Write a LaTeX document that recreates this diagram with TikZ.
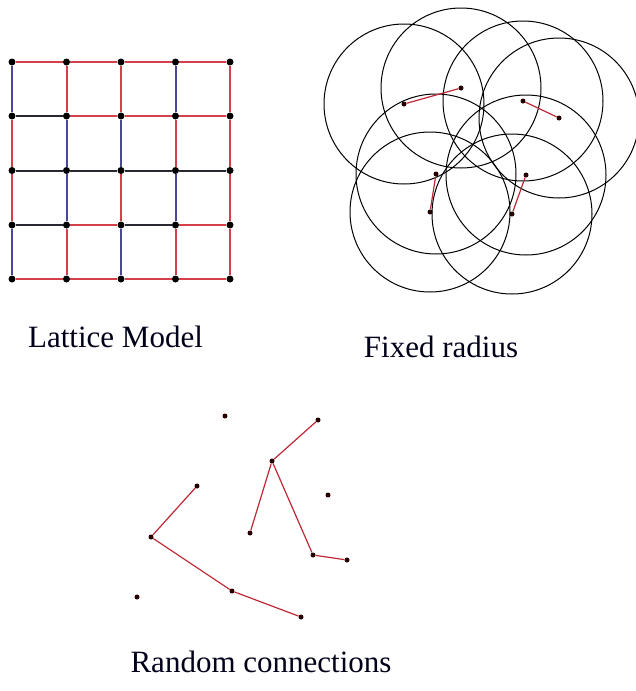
\documentclass[tikz,border=0pt]{standalone}
\usepackage{fontspec}
\setmainfont{Liberation Serif}
\definecolor{lred}{RGB}{212,64,74}
\definecolor{lblue}{RGB}{72,72,150}
\definecolor{lblack}{RGB}{40,40,50}
\definecolor{cred}{RGB}{190,40,55}
\begin{document}
\begin{tikzpicture}[x=1pt,y=-1pt,
  dot/.style={circle,fill=black,inner sep=0pt,minimum size=7pt},
  sdot/.style={circle,fill=black!85!red,inner sep=0pt,minimum size=5pt},
  edger/.style={draw=lred,line width=2pt},
  edgek/.style={draw=lblack,line width=2pt},
  edgeb/.style={draw=lblue,line width=2pt},
  ring/.style={draw=black,line width=1pt},
  link/.style={draw=cred,line width=1.2pt},
  lbl/.style={font=\fontsize{31}{36}\selectfont,text=black!90!blue,anchor=base,inner sep=0pt}]
\useasboundingbox (0,0) rectangle (636,691);
% ---------- Lattice model ----------
\foreach \i/\y in {1/62,2/116,3/170.5,4/225,5/279}
  \foreach \j/\x in {1/12,2/66.5,3/121,4/175.5,5/230}
    \node[dot] (L-\i-\j) at (\x,\y) {};
% horizontal edges
\foreach \i/\j/\c [evaluate=\j as \jj using int(\j+1)] in
  {1/1/r,1/2/r,1/3/r,1/4/r,
   2/1/k,2/2/r,2/3/r,2/4/r,
   3/1/k,3/2/k,3/3/k,3/4/k,
   4/1/k,4/2/r,4/3/k,4/4/r,
   5/1/r,5/2/r,5/3/r,5/4/r}
  \draw[edge\c] (L-\i-\j) -- (L-\i-\jj);
% vertical edges
\foreach \j/\i/\c [evaluate=\i as \ii using int(\i+1)] in
  {1/1/b,1/2/r,1/3/r,1/4/b,
   2/1/r,2/2/b,2/3/b,2/4/r,
   3/1/r,3/2/b,3/3/r,3/4/b,
   4/1/b,4/2/r,4/3/b,4/4/r,
   5/1/r,5/2/r,5/3/r,5/4/r}
  \draw[edge\c] (L-\i-\j) -- (L-\ii-\j);
\node[lbl] (t1) at (115.5,347) {Lattice Model};
% ---------- Fixed radius ----------
\foreach \n/\x/\y in {1/404/104,2/461/88,3/523/101,4/559/118,5/436/174,6/430/212,7/526/175,8/512/214}
  \node[sdot] (F\n) at (\x,\y) {};
\foreach \n in {1,...,8}
  \draw[ring] (F\n.center) circle (80);
\draw[link] (F1) -- (F2);
\draw[link] (F3) -- (F4);
\draw[link] (F5) -- (F6);
\draw[link] (F7) -- (F8);
\node[lbl] (t2) at (441,357) {Fixed radius};
% ---------- Random connections ----------
\foreach \n/\x/\y in {1/225/416,2/318/420,3/272/461,4/197/486,5/328/495,6/151/537,
  7/250/533,8/313/555,9/347/560,10/232/591,11/137/597,12/301/617}
  \node[sdot] (R\n) at (\x,\y) {};
\draw[link] (R2) -- (R3);
\draw[link] (R3) -- (R7);
\draw[link] (R3) -- (R8);
\draw[link] (R8) -- (R9);
\draw[link] (R4) -- (R6);
\draw[link] (R6) -- (R10);
\draw[link] (R10) -- (R12);
\node[lbl] (t3) at (261,672) {Random connections};
\end{tikzpicture}
\end{document}
